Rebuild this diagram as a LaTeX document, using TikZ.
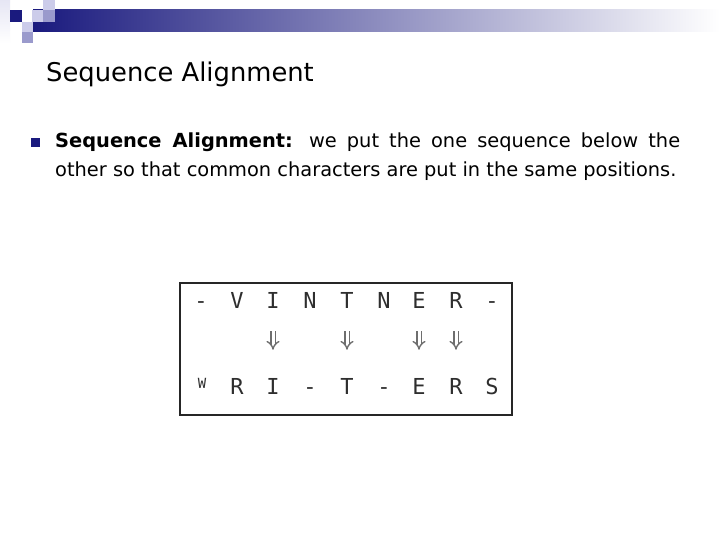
\documentclass[tikz,border=0pt]{standalone}
\usepackage{fontspec}
\setmainfont{DejaVu Sans}
\newfontfamily\seqfont{DejaVu Sans Mono}
\usepackage{tikz}
\usetikzlibrary{arrows.meta}

\definecolor{navy}{HTML}{1A1A7E}
\definecolor{lavmid}{HTML}{9A9ACC}
\definecolor{lavlight}{HTML}{CCCCEA}
\definecolor{lavpale}{HTML}{E6E6F4}
\definecolor{seqgray}{HTML}{2E2E2E}
\definecolor{arrgray}{HTML}{6E6E6E}

\tikzset{
    letter/.style={anchor=base, inner sep=0pt, text=seqgray, font=\seqfont\fontsize{22}{24}\selectfont},
    dnarrow/.style={draw=arrgray, double=white, double distance=3pt, line width=1.4pt,
        -{Implies}, shorten <=23pt, shorten >=28pt}
}

\begin{document}
\begin{tikzpicture}[x=1pt, y=-1pt]
    \useasboundingbox (0, 0) rectangle (720, 540);
    \fill[white] (0, 0) rectangle (720, 540);

    % draw header band and squares
    \shade[left color=navy, right color=white] (33, 10) rectangle (720, 32);
    \shade[top color=lavpale, bottom color=white] (0, 0) rectangle (10, 43);
    \fill[navy] (10, 10) rectangle (22, 22);
    \fill[lavlight] (32, 10) rectangle (43, 22);
    \fill[lavlight] (43, 0) rectangle (55, 10);
    \fill[lavmid] (43, 10) rectangle (55, 22);
    \fill[lavlight] (22, 22) rectangle (33, 32);
    \fill[lavmid] (22, 32) rectangle (33, 43);

    % draw title
    \node[anchor=base west, inner sep=0pt, font=\fontsize{25.8}{30}\selectfont] (title) at (46, 82) {Sequence Alignment};

    % draw bullet and text
    \fill[navy] (31, 138) rectangle (40, 147);
    \node[anchor=north west, inner sep=0pt, text width=625pt, align=justify,
        font=\fontsize{19.4}{29}\selectfont] (body) at (55, 133)
        {\textbf{Sequence Alignment:} we put the one sequence below the\linebreak other so that common characters are put in the same positions.};

    % draw alignment box
    \draw[color=black!85, line width=2pt] (180, 283) rectangle (512, 415);

    % top sequence
    \node[letter] (v1) at (201, 308) {-};
    \node[letter] (v2) at (237, 308) {V};
    \node[letter] (v3) at (273, 308) {I};
    \node[letter] (v4) at (310, 308) {N};
    \node[letter] (v5) at (347, 308) {T};
    \node[letter] (v6) at (384, 308) {N};
    \node[letter] (v7) at (419, 308) {E};
    \node[letter] (v8) at (456, 308) {R};
    \node[letter] (v9) at (492, 308) {-};

    % bottom sequence
    \node[letter, font=\seqfont\fontsize{14}{16}\selectfont] (w1) at (202, 388) {W};
    \node[letter] (w2) at (237, 394) {R};
    \node[letter] (w3) at (273, 394) {I};
    \node[letter] (w4) at (310, 394) {-};
    \node[letter] (w5) at (347, 394) {T};
    \node[letter] (w6) at (384, 394) {-};
    \node[letter] (w7) at (419, 394) {E};
    \node[letter] (w8) at (456, 394) {R};
    \node[letter] (w9) at (492, 394) {S};

    % draw matches
    \draw[dnarrow] (v3) -- (w3);
    \draw[dnarrow] (v5) -- (w5);
    \draw[dnarrow] (v7) -- (w7);
    \draw[dnarrow] (v8) -- (w8);
\end{tikzpicture}
\end{document}
